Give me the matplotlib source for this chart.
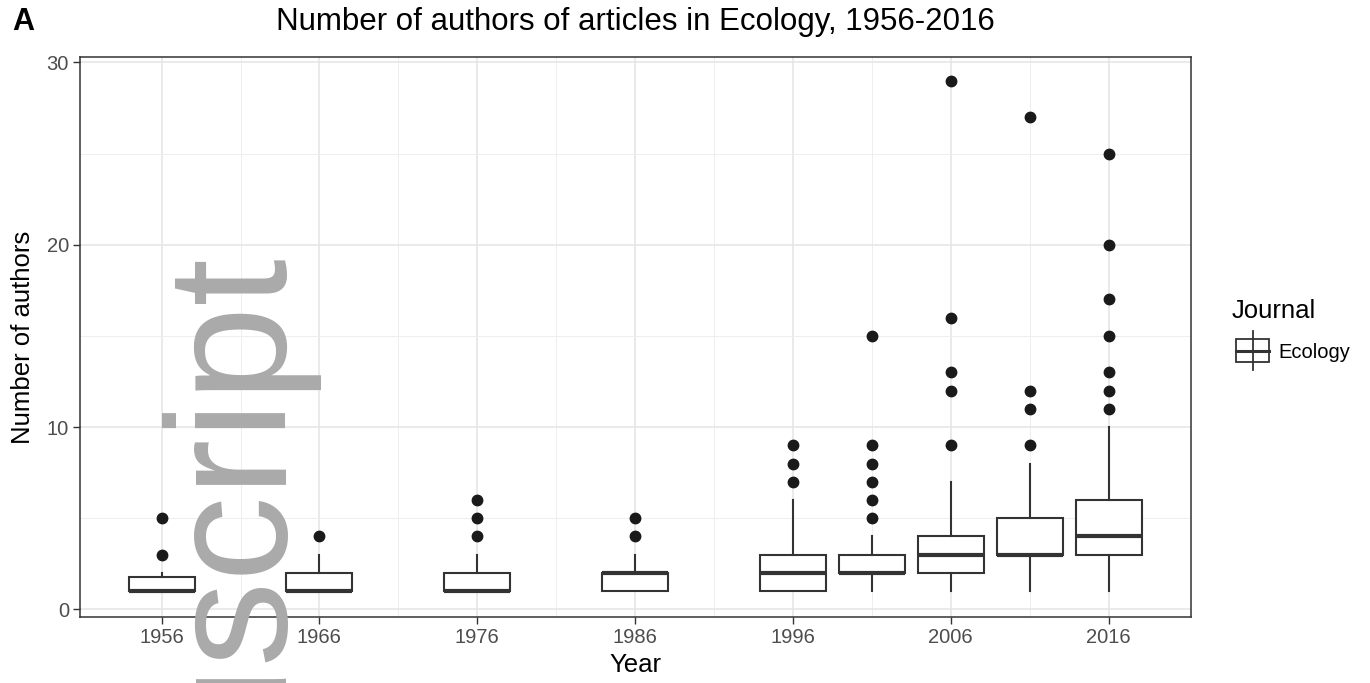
import matplotlib
matplotlib.use("Agg")
import matplotlib.pyplot as plt
from matplotlib.lines import Line2D
from matplotlib.patches import Rectangle

plt.rcParams['font.family'] = ['Liberation Sans', 'DejaVu Sans']

# ---------------- data ----------------
years = [1956, 1966, 1976, 1986, 1996, 2001, 2006, 2011, 2016]
q1 = [1, 1, 1, 1, 1, 2, 2, 3, 3]
medians = [1, 1, 1, 2, 2, 2, 3, 3, 4]
q3 = [1.75, 2, 2, 2, 3, 3, 4, 5, 6]
whisker_low = [1, 1, 1, 1, 1, 1, 1, 1, 1]
whisker_high = [2, 3, 3, 3, 6, 4, 7, 8, 10]
outliers = [
    [3, 5],
    [4],
    [4, 5, 6],
    [4, 5],
    [7, 8, 9],
    [5, 6, 7, 8, 9, 15],
    [9, 12, 13, 16, 29],
    [9, 11, 12, 27],
    [11, 12, 13, 15, 17, 20, 25],
]
x_tick_values = [1956, 1966, 1976, 1986, 1996, 2006, 2016]
x_tick_labels = ["1956", "1966", "1976", "1986", "1996", "2006", "2016"]
y_tick_values = [0, 10, 20, 30]
y_tick_labels = ["0", "10", "20", "30"]
title = "Number of authors of articles in Ecology, 1956-2016"
x_label = "Year"
y_label = "Number of authors"
legend_title = "Journal"
legend_label = "Ecology"
panel_tag = "A"
watermark = "Author Manuscript"

# ---------------- figure ----------------
W, H = 1370, 683
fig = plt.figure(figsize=(W / 100, H / 100), dpi=100)
fig.patch.set_facecolor("white")

def fx(px):
    return px / W

def fy(py):
    return 1 - py / H

left, right, top, bottom = 80, 1191, 57, 617
ax = fig.add_axes([fx(left), fy(bottom), fx(right - left), (bottom - top) / H])

dark = "#333333"
stats = []
for i in range(len(years)):
    stats.append(dict(med=medians[i], q1=q1[i], q3=q3[i],
                      whislo=whisker_low[i], whishi=whisker_high[i],
                      fliers=outliers[i]))

ax.bxp(stats, positions=years, widths=4.18, showcaps=False, patch_artist=True,
       manage_ticks=False,
       boxprops=dict(facecolor="white", edgecolor=dark, linewidth=1.5),
       medianprops=dict(color=dark, linewidth=3.0, solid_capstyle="butt"),
       whiskerprops=dict(color=dark, linewidth=1.5),
       flierprops=dict(marker="o", markerfacecolor="#1a1a1a", markeredgecolor="#1a1a1a",
                       markersize=7.5, linestyle="none"))

ax.set_xlim(1950.83, 2021.22)
ax.set_ylim(-0.42, 30.3)
ax.set_xticks(x_tick_values)
ax.set_xticklabels(x_tick_labels)
ax.set_yticks(y_tick_values)
ax.set_yticklabels(y_tick_labels)
ax.set_xticks([1961, 1971, 1981, 1991, 2001, 2011], minor=True)
ax.set_yticks([5, 15, 25], minor=True)
ax.tick_params(which="minor", length=0)
ax.tick_params(which="major", length=5, width=1.0, color=dark, labelsize=14.5,
               labelcolor="#4d4d4d", pad=3)
ax.grid(which="major", color="#e6e6e6", linewidth=1.2)
ax.grid(which="minor", color="#eeeeee", linewidth=0.7)
ax.set_axisbelow(True)
for s in ax.spines.values():
    s.set_color(dark)
    s.set_linewidth(1.1)

ax.set_xlabel(x_label, fontsize=18.5, labelpad=4)
ax.set_ylabel(y_label, fontsize=18.5, labelpad=8)

# title and tag
fig.text(fx((left + right) / 2), fy(22), title, fontsize=22.5, ha="center", va="center")
fig.text(fx(12), fy(22), panel_tag, fontsize=22, fontweight="bold", ha="left", va="center")

# legend
fig.text(fx(1232), fy(311), legend_title, fontsize=18.5, ha="left", va="center")
fig.text(fx(1278), fy(352), legend_label, fontsize=14.5, ha="left", va="center")
kx0, kx1, ky0, ky1 = 1236, 1269, 339, 362
kxm = (kx0 + kx1) / 2
fig.add_artist(Line2D([fx(kxm), fx(kxm)], [fy(331), fy(370)], color=dark, lw=1.3,
                      transform=fig.transFigure))
fig.add_artist(Rectangle((fx(kx0), fy(ky1)), fx(kx1 - kx0), (ky1 - ky0) / H,
                         facecolor="white", edgecolor=dark, lw=1.3,
                         transform=fig.transFigure))
fig.add_artist(Line2D([fx(kx0), fx(kx1)], [fy(350.5), fy(350.5)], color=dark, lw=2.2,
                      transform=fig.transFigure))

# watermark
fig.text(fx(287), fy(258), watermark, fontsize=123, color="#aaaaaa", rotation=90,
         rotation_mode="anchor", ha="right", va="baseline", zorder=10)

fig.savefig("out.png", dpi=100, facecolor="white")
